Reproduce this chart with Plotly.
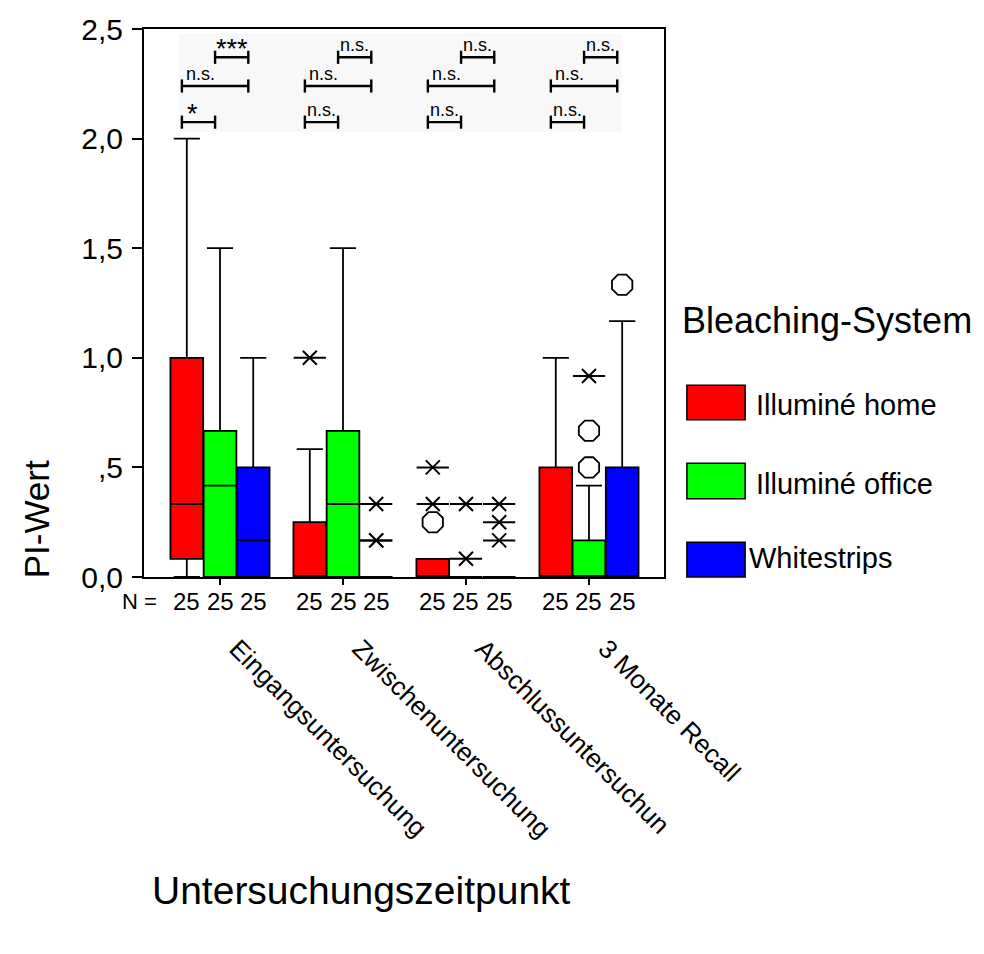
import plotly.graph_objects as go

# ---------------- data ----------------
categories = ["Eingangsuntersuchung", "Zwischenuntersuchung", "Abschlussuntersuchun", "3 Monate Recall"]
series = ["Illuminé home", "Illuminé office", "Whitestrips"]
colors = ["#FF0000", "#00FF00", "#0000FF"]
n_counts = [[25, 25, 25, 25], [25, 25, 25, 25], [25, 25, 25, 25]]

q1 = [[0.083, 0, 0, 0], [0, 0, 0, 0], [0, 0, 0, 0]]
median = [[0.333, 0, 0, 0], [0.417, 0.333, 0, 0], [0.167, 0, 0, 0]]
q3 = [[1.0, 0.25, 0.083, 0.5], [0.667, 0.667, 0, 0.167], [0.5, 0, 0, 0.5]]
lowerfence = [[0, 0, 0, 0], [0, 0, 0, 0], [0, 0, 0, 0]]
upperfence = [[2.0, 0.583, 0.083, 1.0], [1.5, 1.5, 0, 0.417], [1.0, 0, 0, 1.167]]

# extreme values (stars): (category index, value)
extremes = [
    [(1, 1.0), (2, 0.5), (2, 0.333)],
    [(2, 0.333), (2, 0.083), (3, 0.917)],
    [(1, 0.333), (1, 0.167), (1, 0.167), (2, 0.333), (2, 0.25), (2, 0.167)],
]
# outliers (circles)
outliers = [
    [(2, 0.25)],
    [(3, 0.5), (3, 0.667)],
    [(3, 1.333)],
]

# significance comparisons (series a, series b) per category, levels and labels
sig_pairs = [(0, 1), (0, 2), (1, 2)]
sig_levels = [2.075, 2.24, 2.371]
sig_labels = [
    ["*", "n.s.", "***"],
    ["n.s.", "n.s.", "n.s."],
    ["n.s.", "n.s.", "n.s."],
    ["n.s.", "n.s.", "n.s."],
]

y_tickvals = [0, 0.5, 1.0, 1.5, 2.0, 2.5]
y_ticktext = ["0,0", ",5", "1,0", "1,5", "2,0", "2,5"]

# ---------------- layout constants ----------------
FONT = "Liberation Sans, Arial, sans-serif"
offsets = [-0.27, 0.0, 0.27]
box_w = 0.266

fig = go.Figure()

for s in range(3):
    xs = [c + offsets[s] for c in range(len(categories))]
    fig.add_trace(go.Box(
        x=xs, q1=q1[s], median=median[s], q3=q3[s],
        lowerfence=lowerfence[s], upperfence=upperfence[s],
        name=series[s], width=box_w, whiskerwidth=0.8,
        fillcolor=colors[s], line=dict(color="black", width=1.8),
        boxpoints=False, showlegend=False, hoverinfo="skip",
    ))

# stars = X + horizontal bar ; circles = octagons
for s in range(3):
    ex = [c + offsets[s] for c, v in extremes[s]]
    ey = [v for c, v in extremes[s]]
    fig.add_trace(go.Scatter(x=ex, y=ey, mode="markers", showlegend=False, hoverinfo="skip",
                             marker=dict(symbol="x-thin-open", size=14, color="black",
                                         line=dict(width=2, color="black"))))
    fig.add_trace(go.Scatter(x=ex, y=ey, mode="markers", showlegend=False, hoverinfo="skip",
                             marker=dict(symbol="line-ew-open", size=23, color="black",
                                         line=dict(width=2, color="black"))))
    ox = [c + offsets[s] for c, v in outliers[s]]
    oy = [v for c, v in outliers[s]]
    fig.add_trace(go.Scatter(x=ox, y=oy, mode="markers", showlegend=False, hoverinfo="skip",
                             marker=dict(symbol="octagon-open", size=22, color="black",
                                         line=dict(width=1.8, color="black"))))

# significance brackets
bx, by = [], []
annotations = []
shift = -0.04
tick_h = 0.03
for c in range(len(categories)):
    for k, (a, b) in enumerate(sig_pairs):
        x0 = c + offsets[a] + shift
        x1 = c + offsets[b] + shift
        y = sig_levels[k]
        bx += [x0, x0, None, x0, x1, None, x1, x1, None]
        by += [y - tick_h, y + tick_h, None, y, y, None, y - tick_h, y + tick_h, None]
        lab = sig_labels[c][k]
        big = lab.startswith("*")
        fnt = dict(family=FONT, size=27 if big else 18, color="black")
        if k == 1:
            annotations.append(dict(x=x0 + 0.02, y=y, xref="x", yref="y", text=lab, showarrow=False,
                                    xanchor="left", yanchor="bottom", yshift=0 if not big else -9,
                                    font=fnt))
        else:
            annotations.append(dict(x=(x0 + x1) / 2 - (0.05 if lab == "*" else 0), y=y, xref="x", yref="y",
                                    text=lab, showarrow=False, xanchor="center", yanchor="bottom",
                                    yshift=0 if not big else -9, font=fnt))
fig.add_trace(go.Scatter(x=bx, y=by, mode="lines", line=dict(color="black", width=2.4),
                         showlegend=False, hoverinfo="skip"))

# N labels
annotations.append(dict(x=-0.5, y=0, xref="x", yref="y", text="N =", showarrow=False,
                        xanchor="right", yanchor="middle", yshift=-24,
                        font=dict(family=FONT, size=22, color="black")))
for s in range(3):
    for c in range(len(categories)):
        annotations.append(dict(x=c + offsets[s], y=0, xref="x", yref="y", text=str(n_counts[s][c]),
                                showarrow=False, xanchor="center", yanchor="middle", yshift=-24,
                                font=dict(family=FONT, size=24, color="black")))

# axis titles
annotations.append(dict(x=-0.206, y=0.105, xref="paper", yref="paper", text="PI-Wert", textangle=-90,
                        showarrow=False, xanchor="center", yanchor="middle",
                        font=dict(family=FONT, size=35, color="black")))
annotations.append(dict(x=0.419, y=-0.572, xref="paper", yref="paper", text="Untersuchungszeitpunkt",
                        showarrow=False, xanchor="center", yanchor="middle",
                        font=dict(family=FONT, size=39, color="black")))

# manual legend
annotations.append(dict(x=1.031, y=0.4675, xref="paper", yref="paper", text="Bleaching-System",
                        showarrow=False, xanchor="left", yanchor="middle",
                        font=dict(family=FONT, size=36, color="black")))
shapes = []
sw_y = [(0.350, 0.287), (0.2076, 0.1426), (0.0632, 0.0)]
txt_x = [1.173, 1.173, 1.160]
txt_y = [0.314, 0.170, 0.034]
for s in range(3):
    shapes.append(dict(type="rect", xref="paper", yref="paper", x0=1.044, x1=1.156,
                       y0=sw_y[s][1], y1=sw_y[s][0], fillcolor=colors[s],
                       line=dict(color="black", width=1.5)))
    annotations.append(dict(x=txt_x[s], y=txt_y[s], xref="paper", yref="paper", text=series[s],
                            showarrow=False, xanchor="left", yanchor="middle",
                            font=dict(family=FONT, size=29, color="black")))

# light background behind significance area
shapes.append(dict(type="rect", xref="x", yref="y", x0=-0.333, x1=3.268, y0=2.031, y1=2.478,
                   fillcolor="#f8f8f8", line=dict(width=0), layer="below"))

fig.update_layout(
    width=984, height=954,
    margin=dict(l=144, r=320, t=23, b=377),
    paper_bgcolor="white", plot_bgcolor="white",
    font=dict(family=FONT, color="black"),
    shapes=shapes, annotations=annotations,
    showlegend=False,
)
fig.update_xaxes(
    range=[-0.618, 3.61], tickvals=list(range(len(categories))), ticktext=categories,
    tickangle=45, ticks="outside", ticklen=6, tickwidth=1.5, tickcolor="black",
    ticklabelstandoff=38, ticklabelshift=17, tickfont=dict(family=FONT, size=26, color="black"),
    showline=True, linecolor="black", linewidth=2, mirror=True,
    showgrid=False, zeroline=False,
)
fig.update_yaxes(
    range=[0, 2.5], tickvals=y_tickvals, ticktext=y_ticktext,
    ticks="outside", ticklen=10, tickwidth=1.5, tickcolor="black",
    ticklabelstandoff=3, tickfont=dict(family=FONT, size=30, color="black"),
    showline=True, linecolor="black", linewidth=2, mirror=True,
    showgrid=False, zeroline=False,
)

fig.write_html("out.html")
